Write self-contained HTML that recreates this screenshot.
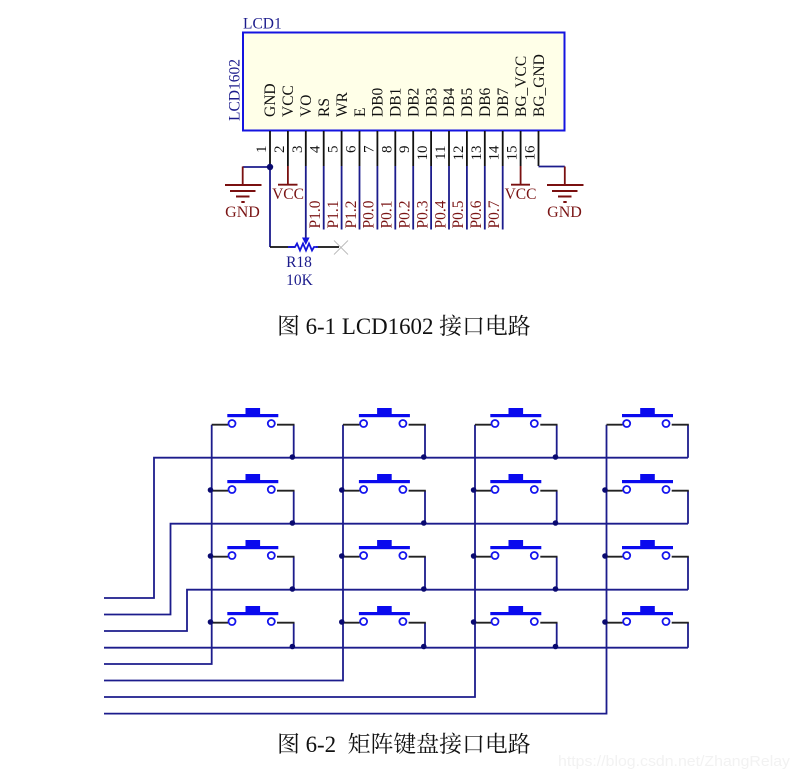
<!DOCTYPE html>
<html>
<head>
<meta charset="utf-8">
<style>
html,body{margin:0;padding:0;background:#fff;}
svg{display:block;}
.t{font-family:"Liberation Serif","Noto Serif CJK SC",serif;font-size:15.5px;}
.k{fill:#111;}
.b{fill:#1c1c8c;}
.r{fill:#7a1414;}
.cap{font-family:"Liberation Serif","Noto Serif CJK SC",serif;font-size:22.9px;fill:#111;}
</style>
</head>
<body>
<svg width="800" height="779" viewBox="0 0 800 779" xmlns="http://www.w3.org/2000/svg">
<defs>
<g id="sw">
<rect x="0" y="0" width="51" height="3.2" fill="#0a0aee"/>
<rect x="18.2" y="-6" width="14.6" height="6" fill="#0a0aee"/>
<circle cx="4.7" cy="9.5" r="3.5" fill="#fff" stroke="#1414ee" stroke-width="1.8"/>
<circle cx="44" cy="9.5" r="3.5" fill="#fff" stroke="#1414ee" stroke-width="1.8"/>
</g>
<g id="gnd">
<rect x="-18" y="0" width="36.5" height="2" fill="#7a1010"/>
<rect x="-13" y="6" width="25.5" height="2" fill="#7a1010"/>
<rect x="-7" y="11.5" width="13.5" height="2" fill="#7a1010"/>
<rect x="-1.7" y="17" width="3.4" height="2" fill="#7a1010"/>
</g>
</defs>
<rect width="800" height="779" fill="#fff"/>

<!-- LCD -->
<rect x="243" y="32.5" width="321.5" height="98" fill="#ffffe8" stroke="#1414e0" stroke-width="2"/>
<text class="t b" x="243" y="28.5">LCD1</text>
<text class="t b" transform="translate(239.5,121) rotate(-90)">LCD1602</text>

<text class="t k" transform="translate(275,117) rotate(-90)">GND</text>
<text class="t k" transform="translate(293,117) rotate(-90)">VCC</text>
<text class="t k" transform="translate(311,117) rotate(-90)">VO</text>
<text class="t k" transform="translate(329,117) rotate(-90)">RS</text>
<text class="t k" transform="translate(347,117) rotate(-90)">WR</text>
<text class="t k" transform="translate(365,117) rotate(-90)">E</text>
<text class="t k" transform="translate(382.5,117) rotate(-90)">DB0</text>
<text class="t k" transform="translate(400.5,117) rotate(-90)">DB1</text>
<text class="t k" transform="translate(418.5,117) rotate(-90)">DB2</text>
<text class="t k" transform="translate(436.5,117) rotate(-90)">DB3</text>
<text class="t k" transform="translate(454,117) rotate(-90)">DB4</text>
<text class="t k" transform="translate(472,117) rotate(-90)">DB5</text>
<text class="t k" transform="translate(490,117) rotate(-90)">DB6</text>
<text class="t k" transform="translate(508,117) rotate(-90)">DB7</text>
<text class="t k" transform="translate(526,117) rotate(-90)">BG_VCC</text>
<text class="t k" transform="translate(544,117) rotate(-90)">BG_GND</text>

<!-- pin numbers -->
<g class="t k" text-anchor="end" style="font-size:15px">
<text transform="translate(266,145.5) rotate(-90)">1</text>
<text transform="translate(283.9,145.5) rotate(-90)">2</text>
<text transform="translate(301.8,145.5) rotate(-90)">3</text>
<text transform="translate(319.7,145.5) rotate(-90)">4</text>
<text transform="translate(337.6,145.5) rotate(-90)">5</text>
<text transform="translate(355.5,145.5) rotate(-90)">6</text>
<text transform="translate(373.4,145.5) rotate(-90)">7</text>
<text transform="translate(391.3,145.5) rotate(-90)">8</text>
<text transform="translate(409.2,145.5) rotate(-90)">9</text>
<text transform="translate(427.1,145.5) rotate(-90)">10</text>
<text transform="translate(445,145.5) rotate(-90)">11</text>
<text transform="translate(462.9,145.5) rotate(-90)">12</text>
<text transform="translate(480.8,145.5) rotate(-90)">13</text>
<text transform="translate(498.7,145.5) rotate(-90)">14</text>
<text transform="translate(516.6,145.5) rotate(-90)">15</text>
<text transform="translate(534.5,145.5) rotate(-90)">16</text>
</g>

<!-- pin stubs -->
<path d="M270 131V166M287.9 131V166M305.8 131V166M323.7 131V166M341.6 131V166M359.5 131V166M377.4 131V166M395.3 131V166M413.2 131V166M431.1 131V166M449 131V166M466.9 131V166M484.8 131V166M502.7 131V166M520.6 131V166M538.5 131V166" stroke="#111" stroke-width="1.8" fill="none"/>
<!-- blue nets -->
<path d="M323.7 166V229.5M341.6 166V229.5M359.5 166V229.5M377.4 166V229.5M395.3 166V229.5M413.2 166V229.5M431.1 166V229.5M449 166V229.5M466.9 166V229.5M484.8 166V229.5M502.7 166V229.5M305.8 166V240M270 166V247" stroke="#1c1c8c" stroke-width="1.8" fill="none"/>
<path d="M242.7 167H270M538.5 166.5H564.8" stroke="#1c1c8c" stroke-width="1.8" fill="none"/>
<circle cx="270" cy="167" r="3.2" fill="#0a0a70"/>
<!-- red stubs -->
<path d="M242.7 166.5V184.5M287.9 166V184.5M520.6 166V184.5M564.8 166.5V184.5" stroke="#7a1010" stroke-width="1.8" fill="none"/>
<path d="M278 184.7H297.5M511 184.7H530" stroke="#7a1010" stroke-width="1.8" fill="none"/>
<use href="#gnd" x="243" y="184"/>
<use href="#gnd" x="565" y="184"/>
<text class="t r" x="242.5" y="217" text-anchor="middle" style="font-size:16px">GND</text>
<text class="t r" x="564.5" y="217" text-anchor="middle" style="font-size:16px">GND</text>
<text class="t r" x="288" y="199" text-anchor="middle">VCC</text>
<text class="t r" x="520.5" y="199" text-anchor="middle">VCC</text>

<!-- net labels -->
<g class="t r">
<text transform="translate(320,228.5) rotate(-90)">P1.0</text>
<text transform="translate(337.9,228.5) rotate(-90)">P1.1</text>
<text transform="translate(355.8,228.5) rotate(-90)">P1.2</text>
<text transform="translate(373.7,228.5) rotate(-90)">P0.0</text>
<text transform="translate(391.6,228.5) rotate(-90)">P0.1</text>
<text transform="translate(409.5,228.5) rotate(-90)">P0.2</text>
<text transform="translate(427.4,228.5) rotate(-90)">P0.3</text>
<text transform="translate(445.3,228.5) rotate(-90)">P0.4</text>
<text transform="translate(463.2,228.5) rotate(-90)">P0.5</text>
<text transform="translate(481.1,228.5) rotate(-90)">P0.6</text>
<text transform="translate(499,228.5) rotate(-90)">P0.7</text>
</g>

<!-- potentiometer -->
<path d="M270 247H295M316 247H339" stroke="#111" stroke-width="1.8" fill="none"/>
<path d="M288 247H295L297 243.5L300 250.5L303 243.5L306 250.5L309 243.5L312 250.5L314 247H318" stroke="#1414dd" stroke-width="1.8" fill="none"/>
<path d="M305.8 238V242" stroke="#1414dd" stroke-width="1.8"/>
<path d="M302 237.5H309.6L305.8 245Z" fill="#1414dd"/>
<path d="M334 240.5L348 254.5M334 254.5L348 240.5" stroke="#bdbdbd" stroke-width="1" fill="none"/>
<text class="t b" x="299" y="267" text-anchor="middle">R18</text>
<text class="t b" x="299.5" y="285" text-anchor="middle">10K</text>

<!-- caption 1 -->
<text class="cap" x="277" y="334">图 6-1 LCD1602 接口电路</text>

<!-- keypad: nets -->
<g fill="none" stroke="#1c1c8c" stroke-width="1.8">
<path d="M104 598H154V457.7H688"/>
<path d="M104 614.5H170.5V523.7H688"/>
<path d="M104 631H187V589.7H688"/>
<path d="M104 647.7H688"/>
<path d="M104 664H211.7V424.7"/>
<path d="M104 680.5H343V424.7"/>
<path d="M104 697H475V424.7"/>
<path d="M104 713.6H606.5V424.7"/>
<path d="M293.7 424.7V457.7M425 424.7V457.7M556.7 424.7V457.7M688 424.7V457.7"/>
<path d="M293.7 490.7V523.7M425 490.7V523.7M556.7 490.7V523.7M688 490.7V523.7"/>
<path d="M293.7 556.7V589.7M425 556.7V589.7M556.7 556.7V589.7M688 556.7V589.7"/>
<path d="M293.7 622.7V647.7M425 622.7V647.7M556.7 622.7V647.7M688 622.7V647.7"/>
</g>
<!-- keypad: black stubs -->
<g fill="none" stroke="#222" stroke-width="1.8">
<path d="M211.7 424.7H228M277 424.7H294.5M343 424.7H359.6M408.6 424.7H425.8M475 424.7H491.3M540.3 424.7H557.5M606.5 424.7H622.7M671.7 424.7H688.8"/>
<path d="M211.7 490.7H228M277 490.7H294.5M343 490.7H359.6M408.6 490.7H425.8M475 490.7H491.3M540.3 490.7H557.5M606.5 490.7H622.7M671.7 490.7H688.8"/>
<path d="M211.7 556.7H228M277 556.7H294.5M343 556.7H359.6M408.6 556.7H425.8M475 556.7H491.3M540.3 556.7H557.5M606.5 556.7H622.7M671.7 556.7H688.8"/>
<path d="M211.7 622.7H228M277 622.7H294.5M343 622.7H359.6M408.6 622.7H425.8M475 622.7H491.3M540.3 622.7H557.5M606.5 622.7H622.7M671.7 622.7H688.8"/>
</g>
<!-- keypad: switches -->
<use href="#sw" x="227.3" y="414"/><use href="#sw" x="358.9" y="414"/><use href="#sw" x="490.3" y="414"/><use href="#sw" x="622" y="414"/>
<use href="#sw" x="227.3" y="480"/><use href="#sw" x="358.9" y="480"/><use href="#sw" x="490.3" y="480"/><use href="#sw" x="622" y="480"/>
<use href="#sw" x="227.3" y="546"/><use href="#sw" x="358.9" y="546"/><use href="#sw" x="490.3" y="546"/><use href="#sw" x="622" y="546"/>
<use href="#sw" x="227.3" y="612"/><use href="#sw" x="358.9" y="612"/><use href="#sw" x="490.3" y="612"/><use href="#sw" x="622" y="612"/>
<!-- keypad: junctions -->
<g fill="#0a0a70">
<circle cx="292.4" cy="457" r="2.8"/><circle cx="423.8" cy="457" r="2.8"/><circle cx="555.5" cy="457" r="2.8"/>
<circle cx="292.4" cy="523" r="2.8"/><circle cx="423.8" cy="523" r="2.8"/><circle cx="555.5" cy="523" r="2.8"/>
<circle cx="292.4" cy="589" r="2.8"/><circle cx="423.8" cy="589" r="2.8"/><circle cx="555.5" cy="589" r="2.8"/>
<circle cx="292.4" cy="646.5" r="2.8"/><circle cx="423.8" cy="646.5" r="2.8"/><circle cx="555.5" cy="646.5" r="2.8"/>
<circle cx="210.5" cy="490" r="2.8"/><circle cx="341.8" cy="490" r="2.8"/><circle cx="473.6" cy="490" r="2.8"/><circle cx="605" cy="490" r="2.8"/>
<circle cx="210.5" cy="556" r="2.8"/><circle cx="341.8" cy="556" r="2.8"/><circle cx="473.6" cy="556" r="2.8"/><circle cx="605" cy="556" r="2.8"/>
<circle cx="210.5" cy="622" r="2.8"/><circle cx="341.8" cy="622" r="2.8"/><circle cx="473.6" cy="622" r="2.8"/><circle cx="605" cy="622" r="2.8"/>
</g>

<!-- caption 2 -->
<text class="cap" x="277" y="752" xml:space="preserve">图 6-2  矩阵键盘接口电路</text>

<!-- watermark -->
<text x="558" y="766" font-family="'Liberation Sans',sans-serif" font-size="14.5" fill="#f2f2f2" textLength="232" lengthAdjust="spacingAndGlyphs">https://blog.csdn.net/ZhangRelay</text>
</svg>
</body>
</html>
